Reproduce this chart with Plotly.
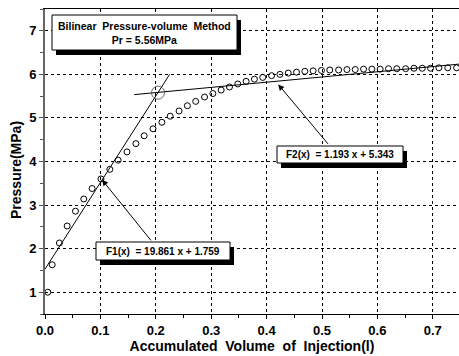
import plotly.graph_objects as go

# ---- data ----
volume = [0.005, 0.013, 0.026, 0.040, 0.055, 0.070, 0.085, 0.101, 0.117, 0.132,
          0.148, 0.164, 0.179, 0.195, 0.211, 0.226, 0.242, 0.257, 0.272, 0.288,
          0.303, 0.318, 0.333, 0.348, 0.363, 0.378, 0.393, 0.409, 0.424, 0.439,
          0.454, 0.469, 0.484, 0.499, 0.514, 0.530, 0.545, 0.560, 0.575, 0.590,
          0.605, 0.620, 0.635, 0.651, 0.666, 0.681, 0.696, 0.711, 0.727, 0.743]
pressure = [1.00, 1.63, 2.13, 2.52, 2.86, 3.14, 3.38, 3.60, 3.82, 4.03,
            4.22, 4.41, 4.59, 4.75, 4.90, 5.04, 5.16, 5.28, 5.38, 5.48,
            5.56, 5.64, 5.71, 5.78, 5.84, 5.89, 5.93, 5.97, 6.00, 6.03,
            6.05, 6.07, 6.08, 6.09, 6.10, 6.10, 6.11, 6.11, 6.12, 6.12,
            6.12, 6.13, 6.13, 6.13, 6.14, 6.14, 6.14, 6.15, 6.15, 6.15]

# fitted lines as drawn in the reference (end points)
f1_x = [0.0, 0.225]
f1_y = [1.53, 6.00]
f2_x = [0.161, 0.76]
f2_y = [5.535, 6.250]
# breakpoint marker (Pr)
pr_x = [0.204]
pr_y = [5.58]

x_ticks = [0.0, 0.1, 0.2, 0.3, 0.4, 0.5, 0.6, 0.7]
x_labels = ["0.0", "0.1", "0.2", "0.3", "0.4", "0.5", "0.6", "0.7"]
y_ticks = [1, 2, 3, 4, 5, 6, 7]
y_labels = ["1", "2", "3", "4", "5", "6", "7"]

title_text = "Bilinear  Pressure-volume  Method<br>Pr = 5.56MPa"
f1_text = "F1(x)  = 19.861 x + 1.759"
f2_text = "F2(x)  = 1.193 x + 5.343"
x_title = "Accumulated  Volume  of  Injection(l)"
y_title = "Pressure(MPa)"

# ---- layout geometry (pixels) ----
W, H = 459, 356
L, R, T, B = 45, 0, 9, 42
PW, PH = W - L - R, H - T - B
FONT = "Liberation Sans"


def px(x):
    return (x - L) / PW


def py(y):
    return 1 - (y - T) / PH


fig = go.Figure()
fig.add_trace(go.Scatter(x=volume, y=pressure, mode="markers", cliponaxis=False,
                         marker=dict(symbol="circle-open", size=6, color="black",
                                     line=dict(width=1, color="black"))))
fig.add_trace(go.Scatter(x=f1_x, y=f1_y, mode="lines", line=dict(color="black", width=1)))
fig.add_trace(go.Scatter(x=f2_x, y=f2_y, mode="lines", line=dict(color="black", width=1)))
fig.add_trace(go.Scatter(x=pr_x, y=pr_y, mode="markers",
                         marker=dict(symbol="circle-open", size=13, color="#444",
                                     line=dict(width=0.8, color="#444"))))

shapes = []
annotations = []


def add_box(x0, y0, x1, y1, text, size, shadow=(4, 5)):
    sx, sy = shadow
    shapes.append(dict(type="rect", xref="paper", yref="paper", layer="above",
                       x0=px(x0 + sx), x1=px(x1 + sx), y0=py(y1), y1=py(y1 + sy),
                       fillcolor="black", line=dict(width=0)))
    shapes.append(dict(type="rect", xref="paper", yref="paper", layer="above",
                       x0=px(x1), x1=px(x1 + sx), y0=py(y0 + sy), y1=py(y1),
                       fillcolor="black", line=dict(width=0)))
    shapes.append(dict(type="rect", xref="paper", yref="paper", layer="above",
                       x0=px(x0), x1=px(x1), y0=py(y1), y1=py(y0),
                       fillcolor="white", line=dict(width=1, color="black")))
    annotations.append(dict(xref="paper", yref="paper", x=px((x0 + x1) / 2), y=py((y0 + y1) / 2),
                            xanchor="center", yanchor="middle", text=text, showarrow=False,
                            font=dict(family=FONT, size=size, color="black", weight="bold"),
                            align="center"))


add_box(52, 15, 237, 50, title_text, 10.5)
add_box(277, 146, 403, 163, f2_text, 10)
add_box(96, 242, 230, 260, f1_text, 10)

# arrows
annotations.append(dict(x=0.103, y=3.58, xref="x", yref="y", ax=50, ay=62, text="",
                        showarrow=True, arrowhead=2, arrowsize=1.2, arrowwidth=1, arrowcolor="black"))
annotations.append(dict(x=0.421, y=5.77, xref="x", yref="y", ax=51, ay=61, text="",
                        showarrow=True, arrowhead=2, arrowsize=1.2, arrowwidth=1, arrowcolor="black"))

tickfont = dict(family=FONT, size=13, color="black", weight="bold")
titlefont = dict(family=FONT, size=14, color="black", weight="bold")

# y-axis title as rotated text
annotations.append(dict(xref="paper", yref="paper", x=px(16), y=py(170), text=y_title,
                        textangle=-90, showarrow=False, xanchor="center", yanchor="middle",
                        font=titlefont))

fig.update_layout(
    width=W, height=H,
    margin=dict(l=L, r=R, t=T, b=B, pad=0),
    paper_bgcolor="white", plot_bgcolor="white",
    showlegend=False,
    font=dict(family=FONT, color="black"),
    shapes=shapes, annotations=annotations,
    xaxis=dict(range=[0, PW / 554.0], tickvals=x_ticks, ticktext=x_labels,
               ticks="outside", ticklen=4, tickwidth=1, tickcolor="black",
               showline=True, linecolor="black", linewidth=1, mirror=True,
               showgrid=True, gridcolor="black", griddash="dot", gridwidth=1,
               zeroline=False, automargin=False,
               minor=dict(dtick=0.05, tick0=0, ticks="outside", ticklen=3,
                          tickcolor="black", showgrid=False),
               tickfont=tickfont,
               title=dict(text=x_title, font=titlefont, standoff=3)),
    yaxis=dict(range=[0.5, 7.5], tickvals=y_ticks, ticktext=y_labels,
               ticks="outside", ticklen=4, tickwidth=1, tickcolor="#555",
               showline=True, linecolor="#666", linewidth=2,
               showgrid=True, gridcolor="black", griddash="dot", gridwidth=1,
               zeroline=False, automargin=False,
               minor=dict(dtick=0.5, tick0=0.5, ticks="outside", ticklen=3,
                          tickcolor="#555", showgrid=False),
               tickfont=tickfont),
)

fig.write_html("out.html")
